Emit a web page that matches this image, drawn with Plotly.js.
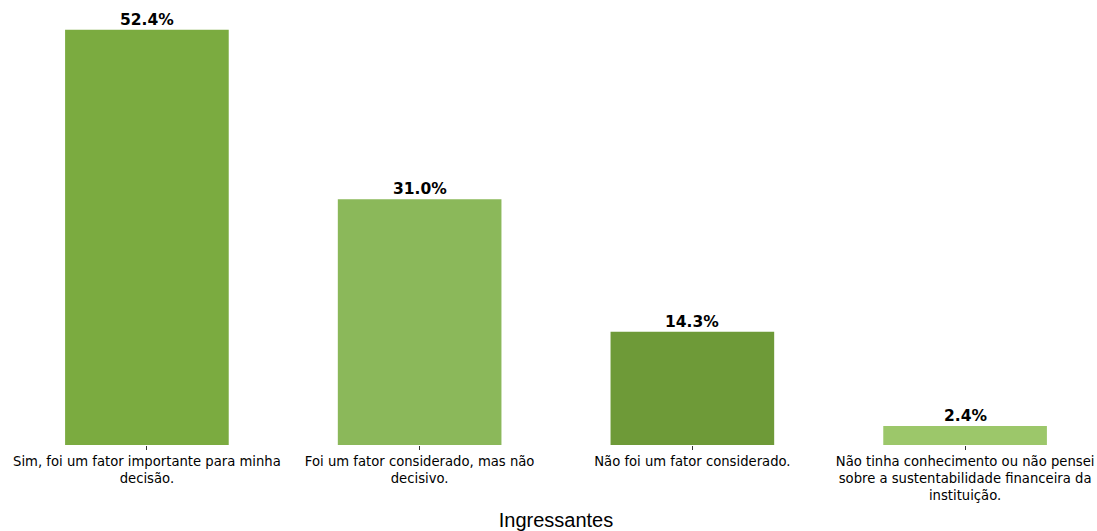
<!DOCTYPE html>
<html>
<head>
<meta charset="utf-8">
<script src="https://cdn.plot.ly/plotly-3.0.1.min.js"></script>
<style>html,body{margin:0;padding:0;background:#fff;}#chart{width:1097px;height:531px;}</style>
</head>
<body>
<div id="chart"></div>
<script>
const categories = [
  "Sim, foi um fator importante para minha<br>decisão.",
  "Foi um fator considerado, mas não<br>decisivo.",
  "Não foi um fator considerado.",
  "Não tinha conhecimento ou não pensei<br>sobre a sustentabilidade financeira da<br>instituição."
];
const values = [52.4, 31.0, 14.3, 2.4];
const barColors = ["#7bab40", "#8bb85a", "#6e9a38", "#9cc76a"];
const labels = values.map(v => v.toFixed(1) + "%");
const xpos = [0, 1, 2, 3];

const trace = {
  type: "bar",
  x: xpos,
  y: values,
  width: 0.6,
  marker: {color: barColors, line: {width: 0}},
  hoverinfo: "skip"
};

const annotations = xpos.map((x, i) => ({
  x: x, y: values[i], xref: "x", yref: "y",
  text: labels[i], showarrow: false,
  yanchor: "bottom", yshift: -1,
  font: {family: "DejaVu Sans", size: 15.5, color: "#000", weight: "bold"}
}));

const layout = {
  width: 1097, height: 531,
  margin: {l: 16, r: 1, t: 9, b: 86},
  paper_bgcolor: "#fff", plot_bgcolor: "#fff",
  showlegend: false,
  annotations: annotations,
  xaxis: {
    range: [-0.48, 3.48],
    tickmode: "array",
    tickvals: xpos,
    ticktext: categories,
    ticks: "outside", ticklen: 4, tickwidth: 1, tickcolor: "#333",
    tickfont: {family: "DejaVu Sans", size: 13.2, color: "#000"},
    showline: false, showgrid: false, zeroline: false,
    title: {text: "Ingressantes", font: {family: "Liberation Sans, Arial", size: 20, color: "#000"}, standoff: 12}
  },
  yaxis: {
    range: [0, 55.02],
    visible: false, showgrid: false, zeroline: false
  }
};

Plotly.newPlot("chart", [trace], layout, {displayModeBar: false, staticPlot: true});
</script>
</body>
</html>
